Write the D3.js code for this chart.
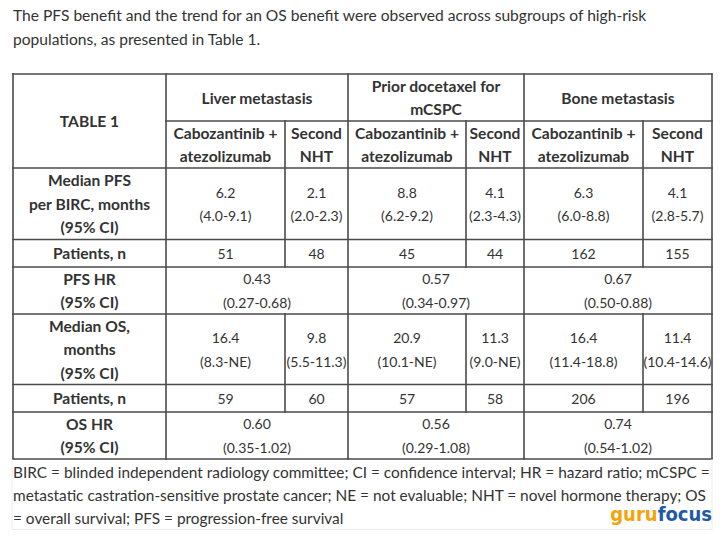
<!DOCTYPE html>
<html>
<head>
<meta charset="utf-8">
<script src="https://cdn.jsdelivr.net/npm/d3@7"></script>
<style>
  html, body { margin: 0; padding: 0; background: #fff; }
  svg { display: block; }
</style>
</head>
<body>
<div id="chart"></div>
<script>
// ---------------- DATA ----------------
const introLines = [
  "The PFS benefit and the trend for an OS benefit were observed across subgroups of high-risk",
  "populations, as presented in Table 1."
];
const tableTitle = "TABLE 1";
const groups = [["Liver metastasis"], ["Prior docetaxel for", "mCSPC"], ["Bone metastasis"]];
const arms = [["Cabozantinib +", "atezolizumab"], ["Second", "NHT"]];
const rowLabels = [
  ["Median PFS", "per BIRC, months", "(95% CI)"],
  ["Patients, n"],
  ["PFS HR", "(95% CI)"],
  ["Median OS,", "months", "(95% CI)"],
  ["Patients, n"],
  ["OS HR", "(95% CI)"]
];
const medianPFS   = ["6.2", "2.1", "8.8", "4.1", "6.3", "4.1"];
const medianPFSci = ["(4.0-9.1)", "(2.0-2.3)", "(6.2-9.2)", "(2.3-4.3)", "(6.0-8.8)", "(2.8-5.7)"];
const pfsPatients = [51, 48, 45, 44, 162, 155];
const pfsHR       = ["0.43", "0.57", "0.67"];
const pfsHRci     = ["(0.27-0.68)", "(0.34-0.97)", "(0.50-0.88)"];
const medianOS    = ["16.4", "9.8", "20.9", "11.3", "16.4", "11.4"];
const medianOSci  = ["(8.3-NE)", "(5.5-11.3)", "(10.1-NE)", "(9.0-NE)", "(11.4-18.8)", "(10.4-14.6)"];
const osPatients  = [59, 60, 57, 58, 206, 196];
const osHR        = ["0.60", "0.56", "0.74"];
const osHRci      = ["(0.35-1.02)", "(0.29-1.08)", "(0.54-1.02)"];
const footnoteLines = [
  "BIRC = blinded independent radiology committee; CI = confidence interval; HR = hazard ratio; mCSPC =",
  "metastatic castration-sensitive prostate cancer; NE = not evaluable; NHT = novel hormone therapy; OS",
  "= overall survival; PFS = progression-free survival"
];
const logoParts = ["guru", "focus"];

// ---------------- LAYOUT ----------------
const W = 720, H = 538;
const colEdges = [13, 166, 285, 348, 466, 524, 643, 712];
const rowEdges = [74, 121, 168, 239.5, 267, 314, 384.5, 412, 459];
const lineH = 23.5;
const font = "Lato, 'Noto Sans', sans-serif";
const textColor = "#333";
const lineColor = "#4a4a4a";

const xCol = d3.scaleOrdinal().domain(d3.range(colEdges.length)).range(colEdges);
const yRow = d3.scaleOrdinal().domain(d3.range(rowEdges.length)).range(rowEdges);

const svg = d3.select("#chart").append("svg")
  .attr("width", W).attr("height", H)
  .style("font-family", font);

// intro
svg.append("g").selectAll("text").data(introLines).join("text")
  .attr("x", 13).attr("y", (d, i) => 15 + i * 24)
  .attr("dominant-baseline", "central")
  .attr("font-size", 15.6).attr("fill", textColor)
  .text(d => d);

function cellText(g, lines, c0, c1, r0, r1, bold) {
  const cx = (xCol(c0) + xCol(c1)) / 2;
  const cy = (yRow(r0) + yRow(r1)) / 2;
  const n = lines.length;
  g.append("g").selectAll("text").data(lines).join("text")
    .attr("x", cx)
    .attr("y", (d, i) => cy + (i - (n - 1) / 2) * lineH)
    .attr("text-anchor", "middle")
    .attr("dominant-baseline", "central")
    .attr("font-size", bold ? 15.6 : 14)
    .attr("font-weight", bold ? 700 : 400)
    .attr("fill", textColor)
    .text(d => d);
}

const tg = svg.append("g");

cellText(tg, [tableTitle], 0, 1, 0, 2, true);
groups.forEach((g, i) => cellText(tg, g, 1 + 2 * i, 3 + 2 * i, 0, 1, true));
groups.forEach((g, i) => arms.forEach((a, j) => cellText(tg, a, 1 + 2 * i + j, 2 + 2 * i + j, 1, 2, true)));
rowLabels.forEach((r, i) => cellText(tg, r, 0, 1, 2 + i, 3 + i, true));

function armRow(vals, cis, r) {
  vals.forEach((v, k) => cellText(tg, cis ? [String(v), cis[k]] : [String(v)], 1 + k, 2 + k, r, r + 1, false));
}
function groupRow(vals, cis, r) {
  vals.forEach((v, k) => cellText(tg, [v, cis[k]], 1 + 2 * k, 3 + 2 * k, r, r + 1, false));
}
armRow(medianPFS, medianPFSci, 2);
armRow(pfsPatients, null, 3);
groupRow(pfsHR, pfsHRci, 4);
armRow(medianOS, medianOSci, 5);
armRow(osPatients, null, 6);
groupRow(osHR, osHRci, 7);

// grid lines
const segs = [];
const yTop = yRow(0), yBot = yRow(8), xLeft = xCol(0), xRight = xCol(7);
rowEdges.forEach((y, i) => {
  if (i === 1) segs.push([xCol(1), y, xRight, y]);
  else segs.push([xLeft, y, xRight, y]);
});
segs.push([xLeft, yTop, xLeft, yBot]);
segs.push([xRight, yTop, xRight, yBot]);
[1, 3, 5].forEach(c => segs.push([xCol(c), yTop, xCol(c), yBot]));
[2, 4, 6].forEach(c => {
  segs.push([xCol(c), yRow(1), xCol(c), yRow(4)]);
  segs.push([xCol(c), yRow(5), xCol(c), yRow(7)]);
});
tg.append("g").selectAll("line").data(segs).join("line")
  .attr("x1", d => d[0]).attr("y1", d => d[1]).attr("x2", d => d[2]).attr("y2", d => d[3])
  .attr("stroke", lineColor).attr("stroke-width", 1.6).attr("stroke-linecap", "square");

// footnote box
svg.append("path")
  .attr("d", `M${xLeft - 1},${yBot} V529.5 H${xRight} V${yBot}`)
  .attr("fill", "none").attr("stroke", "#ececec").attr("stroke-width", 1);
svg.append("g").selectAll("text").data(footnoteLines).join("text")
  .attr("x", 13).attr("y", (d, i) => 471.5 + i * 23)
  .attr("dominant-baseline", "central")
  .attr("font-size", 15.4).attr("fill", textColor)
  .text(d => d);

// logo
const logo = svg.append("text")
  .attr("x", 712).attr("y", 521)
  .attr("text-anchor", "end")
  .attr("font-family", "'DejaVu Sans Condensed', 'DejaVu Sans', sans-serif")
  .attr("font-stretch", "condensed")
  .attr("font-weight", 700)
  .attr("font-size", 20);
logo.append("tspan").attr("fill", "#f5a30a").text(logoParts[0]);
logo.append("tspan").attr("fill", "#1f5aa6").text(logoParts[1]);
</script>
</body>
</html>
